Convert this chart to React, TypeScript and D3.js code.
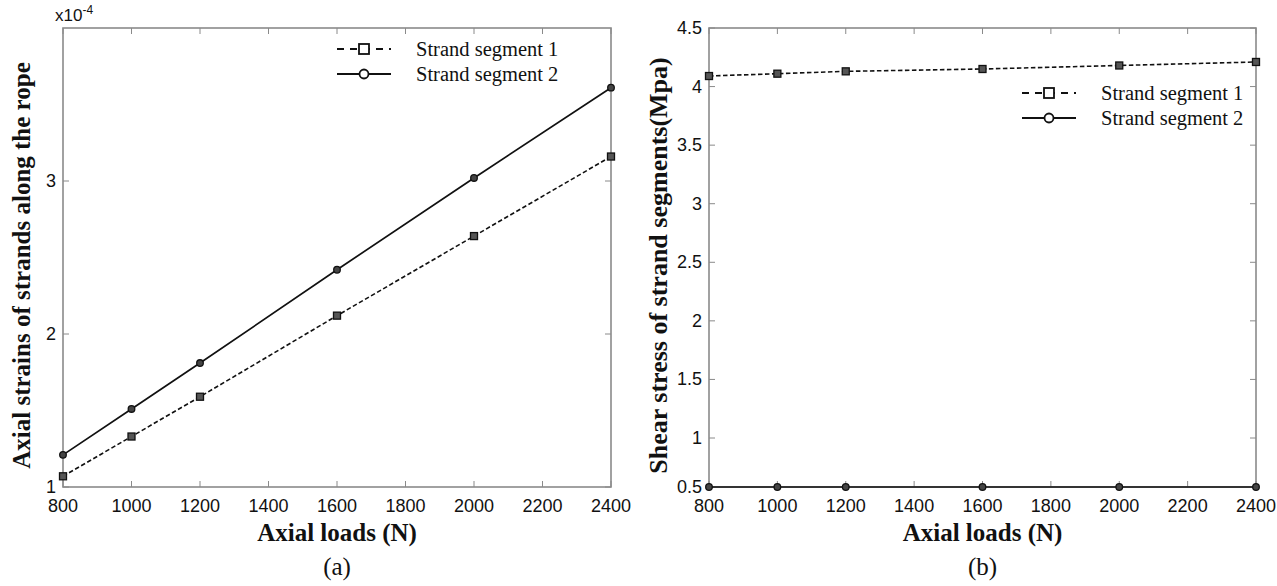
import React from "react";
import * as d3 from "d3";

const loads = [800, 1000, 1200, 1600, 2000, 2400];
const strainSeg1 = [1.07, 1.33, 1.59, 2.12, 2.64, 3.16];
const strainSeg2 = [1.21, 1.51, 1.81, 2.42, 3.02, 3.61];
const shearSeg1 = [4.09, 4.11, 4.13, 4.15, 4.18, 4.21];
const shearSeg2 = [0.5, 0.5, 0.5, 0.5, 0.5, 0.5];
const xTicks = [800, 1000, 1200, 1400, 1600, 1800, 2000, 2200, 2400];
const strainTicks = [1, 2, 3];
const shearTicks = [0.5, 1, 1.5, 2, 2.5, 3, 3.5, 4, 4.5];
const seriesNames = ["Strand segment 1", "Strand segment 2"];

const SANS = "'Liberation Sans', Arial, sans-serif";
const SERIF = "'Liberation Serif', 'Times New Roman', serif";
const FRAME = "#8a8a8a";
const INK = "#111";

type PanelProps = {
  x: d3.ScaleLinear<number, number>;
  y: d3.ScaleLinear<number, number>;
  yTicks: number[];
  s1: number[];
  s2: number[];
  yLabel: string;
  yLabelX: number;
  yLabelSize: number;
  panelLabel: string;
  legendX: number;
  legendY: number;
  exponent?: boolean;
};

function Panel(p: PanelProps) {
  const { x, y } = p;
  const [x0, x1] = x.range();
  const yr = y.range();
  const y0 = yr[0];
  const y1 = yr[yr.length - 1];
  const line = d3
    .line<number>()
    .x((_, i) => x(loads[i]))
    .y((d) => y(d));
  const tl = 6;
  const cx = (x0 + x1) / 2;
  return (
    <g>
      <rect x={x0} y={y1} width={x1 - x0} height={y0 - y1} fill="none" stroke={FRAME} strokeWidth={1.6} />
      {xTicks.map((t) => (
        <g key={"xt" + t}>
          <line x1={x(t)} x2={x(t)} y1={y0} y2={y0 - tl} stroke={FRAME} strokeWidth={1} />
          <line x1={x(t)} x2={x(t)} y1={y1} y2={y1 + tl} stroke={FRAME} strokeWidth={1} />
          <text x={x(t)} y={y0 + 25} textAnchor="middle" fontFamily={SANS} fontSize={18} fill={INK}>
            {t}
          </text>
        </g>
      ))}
      {p.yTicks.map((t) => (
        <g key={"yt" + t}>
          <line x1={x0} x2={x0 + tl} y1={y(t)} y2={y(t)} stroke={FRAME} strokeWidth={1} />
          <line x1={x1} x2={x1 - tl} y1={y(t)} y2={y(t)} stroke={FRAME} strokeWidth={1} />
          <text x={x0 - 7} y={y(t) + 6} textAnchor="end" fontFamily={SANS} fontSize={18} fill={INK}>
            {t}
          </text>
        </g>
      ))}
      {p.exponent && (
        <text x={x0 - 8} y={y1 - 7} fontFamily={SANS} fontSize={17} fill={INK}>
          x10
          <tspan dy={-7} fontSize={12}>
            -4
          </tspan>
        </text>
      )}
      <path d={line(p.s1) || ""} fill="none" stroke={INK} strokeWidth={1.6} strokeDasharray="4.5,2.5" />
      <path d={line(p.s2) || ""} fill="none" stroke={INK} strokeWidth={1.7} />
      {p.s1.map((v, i) => (
        <rect key={"m1" + i} x={x(loads[i]) - 3.5} y={y(v) - 3.5} width={7} height={7} fill="#555" stroke={INK} strokeWidth={1.3} />
      ))}
      {p.s2.map((v, i) => (
        <circle key={"m2" + i} cx={x(loads[i])} cy={y(v)} r={3.3} fill="#444" stroke={INK} strokeWidth={1.3} />
      ))}
      <g transform={`translate(${p.legendX},${p.legendY})`}>
        <line x1={0} x2={54} y1={0} y2={0} stroke={INK} strokeWidth={1.8} strokeDasharray="7,6" />
        <rect x={22} y={-5} width={10} height={10} fill="#fff" stroke={INK} strokeWidth={1.8} />
        <text x={79} y={7} fontFamily={SERIF} fontSize={20.5} fill={INK}>
          {seriesNames[0]}
        </text>
        <line x1={0} x2={54} y1={25} y2={25} stroke={INK} strokeWidth={1.8} />
        <circle cx={27} cy={25} r={4.5} fill="#fff" stroke={INK} strokeWidth={1.8} />
        <text x={79} y={32} fontFamily={SERIF} fontSize={20.5} fill={INK}>
          {seriesNames[1]}
        </text>
      </g>
      <text x={cx} y={541} textAnchor="middle" fontFamily={SERIF} fontWeight="bold" fontSize={25} fill={INK}>
        Axial loads (N)
      </text>
      <text x={cx} y={575} textAnchor="middle" fontFamily={SERIF} fontSize={25} fill={INK}>
        {p.panelLabel}
      </text>
      <text
        transform={`translate(${p.yLabelX},${(y0 + y1) / 2 + 8}) rotate(-90)`}
        textAnchor="middle"
        fontFamily={SERIF}
        fontWeight="bold"
        fontSize={p.yLabelSize}
        fill={INK}
      >
        {p.yLabel}
      </text>
    </g>
  );
}

export default function App() {
  const xA = d3.scaleLinear().domain([800, 2400]).range([63, 611]);
  const yA = d3.scaleLinear().domain([1, 4]).range([487, 28]);
  const xB = d3.scaleLinear().domain([800, 2400]).range([709, 1256]);
  const yB = d3.scaleLinear().domain([0.5, 1, 4.5]).range([487, 438, 28]);
  return (
    <svg width={1277} height={586} style={{ position: "absolute", left: 0, top: 0, background: "#fff" }}>
      <rect width={1277} height={586} fill="#fff" />
      <Panel
        x={xA}
        y={yA}
        yTicks={strainTicks}
        s1={strainSeg1}
        s2={strainSeg2}
        yLabel="Axial strains of strands along the rope"
        yLabelX={30}
        yLabelSize={25}
        panelLabel="(a)"
        legendX={337}
        legendY={49}
        exponent
      />
      <Panel
        x={xB}
        y={yB}
        yTicks={shearTicks}
        s1={shearSeg1}
        s2={shearSeg2}
        yLabel="Shear stress of strand segments(Mpa)"
        yLabelX={667}
        yLabelSize={26}
        panelLabel="(b)"
        legendX={1022}
        legendY={93}
      />
    </svg>
  );
}
